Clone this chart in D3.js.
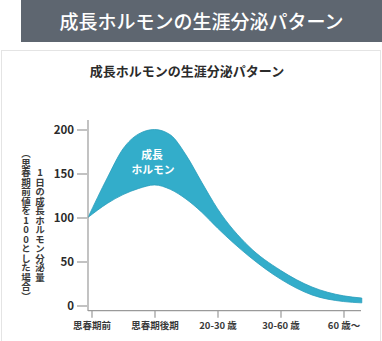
<!DOCTYPE html>
<html>
<head>
<meta charset="utf-8">
<script src="https://cdn.jsdelivr.net/npm/d3@7"></script>
<style>
  html, body { margin: 0; padding: 0; background: #fff; }
  svg { display: block; }
  text { font-family: "Noto Sans CJK JP", "Noto Sans", sans-serif; }
</style>
</head>
<body>
<svg id="chart" width="382" height="341"></svg>
<script>
// Life stages on the x axis
const stageLabels = ["思春期前", "思春期後期", "20-30 歳", "30-60 歳", "60 歳〜"];
// Y axis ticks (daily GH secretion, pre-puberty = 100)
const yTicks = [0, 50, 100, 150, 200];
// Band sampled along the stage axis (fractional stage positions)
const bandStage = [-0.056, 0.25, 0.5, 0.75, 1.0, 1.25, 1.5, 1.75, 2.0, 2.5, 3.0, 3.5, 4.0, 4.29];
const bandUpper = [100, 145, 178, 195, 200, 194, 171, 140, 110, 67, 40, 21, 11, 8.5];
const bandLower = [100, 116, 126, 133, 137, 132, 121, 106, 88, 56, 30, 12, 4.5, 3];
// Label inside the band
const bandLabel = ["成長", "ホルモン"];

const svg = d3.select("#chart");

// Header banner
svg.append("rect").attr("x", 21).attr("y", 0).attr("width", 361).attr("height", 42)
  .attr("fill", "#5e6670");
svg.append("text").attr("x", 201.5).attr("y", 28.5).attr("text-anchor", "middle")
  .attr("fill", "#fff").attr("font-size", 19).attr("font-weight", 500)
  .text("成長ホルモンの生涯分泌パターン");

// Card frame
svg.append("rect").attr("x", 1.5).attr("y", 50.5).attr("width", 379).attr("height", 300)
  .attr("fill", "#fff").attr("stroke", "#e4e4e4").attr("stroke-width", 1);

// Chart title
svg.append("text").attr("x", 187).attr("y", 76).attr("text-anchor", "middle")
  .attr("fill", "#2b2b2b").attr("font-size", 13).attr("font-weight", 700)
  .text("成長ホルモンの生涯分泌パターン");

const x = d3.scaleLinear().domain([0, 4]).range([91.5, 343.5]);
const y = d3.scaleLinear().domain([0, 200]).range([305.5, 129.5]);

// Band
const bandData = bandStage.map((s, i) => ({ s, hi: bandUpper[i], lo: bandLower[i] }));
const area = d3.area()
  .x(d => x(d.s)).y0(d => y(d.lo)).y1(d => y(d.hi))
  .curve(d3.curveMonotoneX);
svg.append("path").datum(bandData).attr("d", area)
  .attr("fill", "#33adca").attr("stroke", "#2a9dbb").attr("stroke-width", 0.8);

// Band label, one text per line
svg.selectAll("text.band-label").data(bandLabel).join("text")
  .attr("class", "band-label")
  .attr("x", (d, i) => i === 0 ? 152 : 153)
  .attr("y", (d, i) => 158.5 + i * 15.5)
  .attr("text-anchor", "middle").attr("fill", "#fff")
  .attr("font-size", 10.8).attr("font-weight", 700)
  .text(d => d);

// Axis lines
const axisColor = "#9a9a9a";
svg.append("line").attr("x1", 88).attr("x2", 88).attr("y1", 120).attr("y2", 311)
  .attr("stroke", axisColor).attr("stroke-width", 1.2);
svg.append("line").attr("x1", 88).attr("x2", 361).attr("y1", 310.7).attr("y2", 310.7)
  .attr("stroke", axisColor).attr("stroke-width", 1.2);

// Y axis ticks
const yAxis = svg.append("g").attr("transform", "translate(87,0)")
  .call(d3.axisLeft(y).tickValues(yTicks).tickSize(10).tickSizeOuter(0).tickPadding(3));
yAxis.select(".domain").remove();
yAxis.selectAll(".tick line").attr("stroke", axisColor).attr("stroke-width", 1.2);
yAxis.selectAll(".tick text").attr("fill", "#2b2b2b").attr("font-size", 11.5)
  .attr("font-weight", 700).attr("font-family", "\"Noto Sans\", sans-serif");

// X axis ticks
const xAxis = svg.append("g").attr("transform", "translate(0,310.7)")
  .call(d3.axisBottom(x).tickValues(d3.range(stageLabels.length))
    .tickFormat(i => stageLabels[i]).tickSize(7).tickSizeOuter(0).tickPadding(5));
xAxis.select(".domain").remove();
xAxis.selectAll(".tick line").attr("stroke", axisColor).attr("stroke-width", 1.2);
xAxis.selectAll(".tick text").attr("fill", "#3a3a3a").attr("font-size", 9.5)
  .attr("font-weight", 700).attr("font-family", "\"Noto Sans CJK JP\", sans-serif");

// Vertical y-axis title
const vStyle = "writing-mode: vertical-rl; text-orientation: upright;";
svg.append("text").attr("x", 40).attr("y", 225).attr("text-anchor", "middle")
  .attr("style", vStyle).attr("fill", "#3a3a3a").attr("font-size", 9.5).attr("font-weight", 700)
  .text("1日の成長ホルモン分泌量");
svg.append("text").attr("x", 26).attr("y", 225).attr("text-anchor", "middle")
  .attr("style", vStyle).attr("fill", "#3a3a3a").attr("font-size", 9.5).attr("font-weight", 700)
  .text("（思春期前値を100とした場合）");
</script>
</body>
</html>
